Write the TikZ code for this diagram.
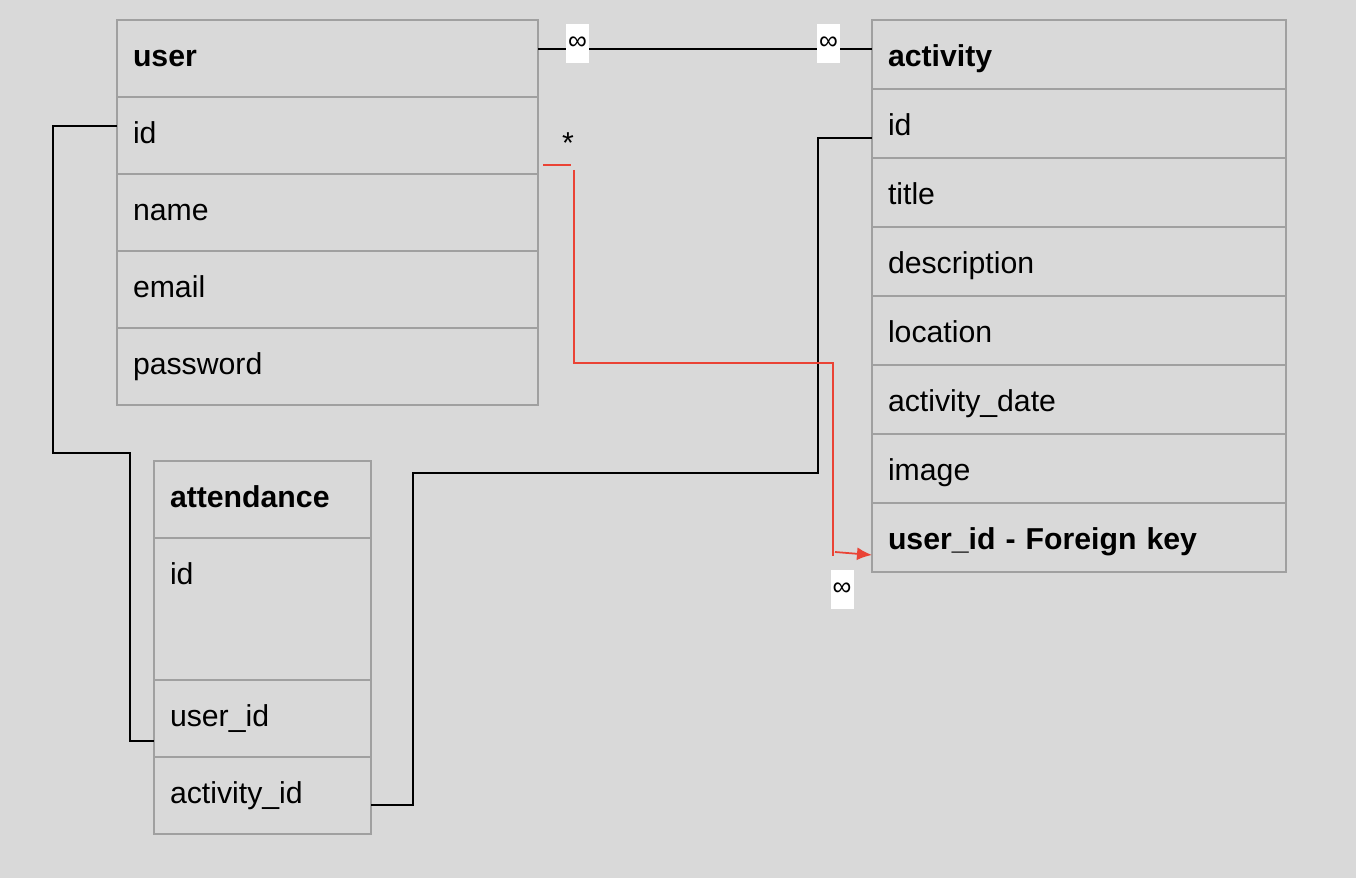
\documentclass[tikz,border=0pt]{standalone}
\usepackage{fontspec}
\setmainfont{Liberation Sans}
\usetikzlibrary{positioning,arrows.meta}
\definecolor{bggray}{RGB}{217,217,217}
\definecolor{cellgray}{RGB}{160,160,160}
\definecolor{fkred}{RGB}{234,67,53}
\newcommand{\cellfont}{\fontsize{17.2}{20}\selectfont}
\tikzset{field/.style = {draw=cellgray, line width=1.1pt, rectangle, outer sep=0pt, inner xsep=0.32cm, align=left, text height=0.45cm, text depth=0.12cm, font=\cellfont},
         ufield/.style={field, text width=7.78cm, minimum height=1.54cm},
         afield/.style={field, text width=7.64cm, minimum height=1.38cm, text height=0.59cm},
         tfield/.style={field, text width=3.70cm, minimum height=1.54cm},
         link/.style={line width=1pt},
         fk/.style={draw=fkred, line width=1pt},
         card/.style= {fill=white, inner sep=0pt, minimum width=0.46cm, minimum height=0.78cm, font=\fontsize{15}{15}\selectfont}}

\begin{document}
\begin{tikzpicture}
    \fill[bggray](0,0)rectangle(27.12,-17.56);
    \useasboundingbox(0,0)rectangle(27.12,-17.56);
    \node[ufield, font=\cellfont\bfseries](user)at(6.55,-1.17){user};
    \node[ufield, below=0pt of user](user-id){id};
    \node[ufield, below=0pt of user-id](user-name){name};
    \node[ufield, below=0pt of user-name](user-email){email};
    \node[ufield, below=0pt of user-email](user-password){password};
    \node[afield, font=\cellfont\bfseries](act)at(21.58,-1.09){activity};
    \node[afield, below=0pt of act](act-id){id};
    \node[afield, below=0pt of act-id](act-title){title};
    \node[afield, below=0pt of act-title](act-desc){description};
    \node[afield, below=0pt of act-desc](act-loc){location};
    \node[afield, below=0pt of act-loc](act-date){activity\_date};
    \node[afield, below=0pt of act-date](act-image){image};
    \node[afield, below=0pt of act-image, font=\cellfont\bfseries](act-fk){user\_id - Foreign key};
    \node[tfield, font=\cellfont\bfseries](att)at(5.25,-9.99){attendance};
    \node[tfield, below=0pt of att, minimum height=2.84cm, text depth=1.42cm](att-id){id};
    \node[tfield, below=0pt of att-id](att-user){user\_id};
    \node[tfield, below=0pt of att-user](att-act){activity\_id};
    \draw[link]([yshift=0.19cm]user.east)--([yshift=0.19cm]user.east -| act.west)
        node[card, pos=0.118, yshift=0.11cm](m1){∞}
        node[card, pos=0.87, yshift=0.11cm](m2){∞};
    \draw[link]([yshift=0.19cm]user-id.west)--++(-1.28,0)|-++(1.54,-6.54)|-([yshift=-0.45cm]att-user.west);
    \draw[link]([yshift=-0.19cm]att-act.east)--++(0.84,0)|-++(8.1,6.64)|-([yshift=-0.29cm]act-id.west);
    \draw[fk]([shift={(0.1,-0.59)}]user-id.east)--++(0.56,0);
    \draw[fk]([shift={(0.72,-0.69)}]user-id.east)|-++(5.18,-3.86)--++(0,-3.86);
    \draw[fk,-{Latex[length=0.3cm,width=0.26cm]}]([shift={(-0.74,-0.29)}]act-fk.west)--([yshift=-0.35cm]act-fk.west);
    \node[inner sep=0pt, font=\cellfont](star)at(11.36,-2.86){*};
    \node[card](m3)at(16.84,-11.79){∞};
\end{tikzpicture}
\end{document}
